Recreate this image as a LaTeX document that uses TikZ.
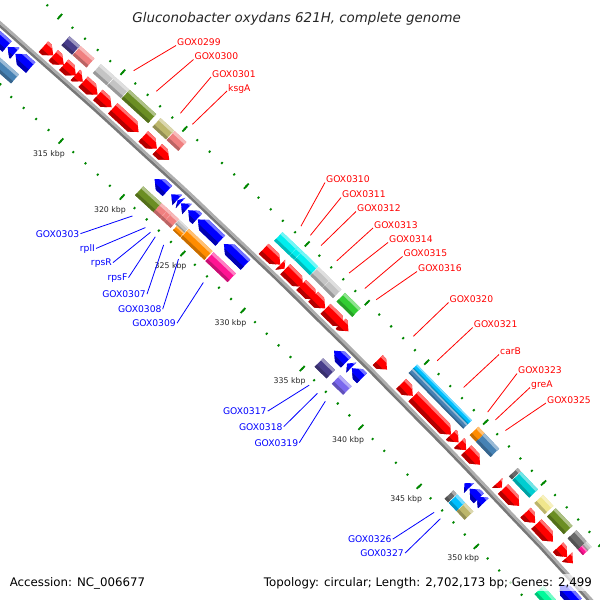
\documentclass[tikz,border=0pt]{standalone}
\usepackage{fontspec}
\setmainfont{DejaVu Sans}[ItalicFont={DejaVu Sans Oblique}]

\definecolor{fwdred}{RGB}{255,0,0}
\definecolor{revblue}{RGB}{0,0,255}
\definecolor{tickgreen}{RGB}{0,135,0}
\definecolor{bbone}{RGB}{120,120,120}
\definecolor{cogcyan}{RGB}{0,238,238}
\definecolor{coggray}{RGB}{196,196,196}
\definecolor{coglime}{RGB}{50,205,50}
\definecolor{cogolive}{RGB}{107,142,35}
\definecolor{cogkhaki}{RGB}{189,183,107}
\definecolor{cogcoral}{RGB}{240,128,128}
\definecolor{cogslate}{RGB}{72,61,139}
\definecolor{cogmslate}{RGB}{123,104,238}
\definecolor{cogorange}{RGB}{255,140,0}
\definecolor{cogpink}{RGB}{255,20,147}
\definecolor{cogsky}{RGB}{0,191,255}
\definecolor{cogsteel}{RGB}{70,130,180}
\definecolor{cogturq}{RGB}{0,206,209}
\definecolor{cogpale}{RGB}{240,230,140}
\definecolor{cogdim}{RGB}{105,105,105}
\definecolor{cogspring}{RGB}{0,250,154}

% point on the map: kbp position, offset from the backbone (px)
\newcommand{\gp}[2]{({(#1)*0.133226-90}:{7182+(#2)})}

% forward CDS (outer lane), arrow tip at the end
\newcommand{\fwdgene}[3]{%
  \pgfmathsetmacro{\ghead}{min(0.5,(#2)-(#1))}%
  \fill[#3] \gp{#1}{5} -- \gp{#2-\ghead}{5} -- \gp{#2}{12} -- \gp{#2-\ghead}{19} -- \gp{#1}{19} -- cycle;
  \fill[#3!70!black] \gp{#1}{5} -- \gp{#2-\ghead}{5} -- \gp{#2-0.4*\ghead}{9.2} -- \gp{#1}{9.2} -- cycle;
  \fill[#3!55!white] \gp{#1}{16.2} -- \gp{#2-0.6*\ghead}{16.2} -- \gp{#2-\ghead}{19} -- \gp{#1}{19} -- cycle;}

% reverse CDS (inner lane), arrow tip at the start
\newcommand{\revgene}[3]{%
  \pgfmathsetmacro{\ghead}{min(0.5,(#2)-(#1))}%
  \fill[#3] \gp{#2}{-5} -- \gp{#1+\ghead}{-5} -- \gp{#1}{-12} -- \gp{#1+\ghead}{-19} -- \gp{#2}{-19} -- cycle;
  \fill[#3!70!black] \gp{#2}{-19} -- \gp{#1+\ghead}{-19} -- \gp{#1+0.4*\ghead}{-14.8} -- \gp{#2}{-14.8} -- cycle;
  \fill[#3!55!white] \gp{#2}{-7.8} -- \gp{#1+0.6*\ghead}{-7.8} -- \gp{#1+\ghead}{-5} -- \gp{#2}{-5} -- cycle;}

% COG bar: start, end, low offset, high offset, colour
\newcommand{\cogbar}[5]{%
  \pgfmathsetmacro{\gq}{0.25*((#4)-(#3))}%
  \fill[#5] \gp{#1}{#3} -- \gp{#2}{#3} -- \gp{#2}{#4} -- \gp{#1}{#4} -- cycle;
  \fill[#5!78!black] \gp{#1}{#3} -- \gp{#2}{#3} -- \gp{#2}{#3+\gq} -- \gp{#1}{#3+\gq} -- cycle;
  \fill[#5!55!white] \gp{#1}{#4-\gq} -- \gp{#2}{#4-\gq} -- \gp{#2}{#4} -- \gp{#1}{#4} -- cycle;}

\begin{document}
\begin{tikzpicture}[
  x=1pt, y=-1pt,
  backtop/.style  = {draw=bbone!60!white, line width=2.7pt},
  backbot/.style  = {draw=bbone, line width=2.7pt},
  tickmark/.style = {draw=tickgreen, line width=1.8pt},
  kbplabel/.style = {font=\fontsize{7.8}{9}\selectfont, text=black!85, inner sep=0pt},
  fwdlab/.style   = {font=\fontsize{9.2}{10}\selectfont, text=fwdred, inner sep=1pt, anchor=base west},
  revlab/.style   = {font=\fontsize{9.2}{10}\selectfont, text=revblue, inner sep=1pt, anchor=base east},
  fwdline/.style  = {draw=fwdred, line width=0.8pt},
  revline/.style  = {draw=revblue, line width=0.8pt},
]
\fill[white] (0,0) rectangle (600,600);
\useasboundingbox (0,0) rectangle (600,600);

\begin{scope}[shift={(-4710,5446)}]

% --- backbone -----------------------------------------------------------
\draw[backbot] plot[domain=306:358, samples=40] ({\x*0.133226-90}:{7182-1.3});
\draw[backtop] plot[domain=306:358, samples=40] ({\x*0.133226-90}:{7182+1.3});

% --- ruler ticks and kbp marks -----------------------------------------
\foreach \k in {308,...,357} {
  \draw[tickmark] \gp{\k}{44.4} -- \gp{\k}{46.6};
  \draw[tickmark] \gp{\k}{-48.1} -- \gp{\k}{-45.9};
}
\foreach \k in {310,315,...,355} {
  \draw[tickmark] \gp{\k}{42} -- \gp{\k}{49};
  \draw[tickmark] \gp{\k}{-50.5} -- \gp{\k}{-43.5};
}
\foreach \k in {315,320,...,350}
  \path \gp{\k}{-65} node[kbplabel] (kbp\k) {\k\ kbp};

% --- forward strand CDS --------------------------------------------------
\fwdgene{310.45}{311.24}{fwdred}
\fwdgene{311.24}{312.08}{fwdred}
\fwdgene{312.08}{313.05}{fwdred}
\fwdgene{313.0}{313.6}{fwdred}
\fwdgene{313.62}{314.78}{fwdred}
\fwdgene{314.8}{315.9}{fwdred}
\fwdgene{316.0}{318.1}{fwdred}
\fwdgene{318.48}{319.58}{fwdred}
\fwdgene{319.62}{320.57}{fwdred}
\fwdgene{328.33}{329.7}{fwdred}
\fwdgene{329.7}{330.05}{fwdred}
\fwdgene{330.1}{331.6}{fwdred}
\fwdgene{331.45}{332.7}{fwdred}
\fwdgene{332.45}{333.45}{fwdred}
\fwdgene{333.48}{335.0}{fwdred}
\fwdgene{334.75}{335.4}{fwdred}
\fwdgene{337.85}{338.65}{fwdred}
\fwdgene{339.85}{340.85}{fwdred}
\fwdgene{340.9}{344.1}{fwdred}
\fwdgene{344.1}{344.75}{fwdred}
\fwdgene{344.8}{345.4}{fwdred}
\fwdgene{345.4}{346.6}{fwdred}
\fwdgene{348.1}{348.5}{fwdred}
\fwdgene{348.6}{350.0}{fwdred}
\fwdgene{350.55}{351.4}{fwdred}
\fwdgene{351.5}{352.95}{fwdred}
\fwdgene{353.4}{354.2}{fwdred}
\fwdgene{354.2}{354.7}{fwdred}

% --- forward strand COG ---------------------------------------------------
\cogbar{311.2}{312.05}{25}{37}{cogslate}
\cogbar{312.1}{313.2}{25}{37}{cogcoral}
\cogbar{313.7}{314.8}{25}{37}{coggray}
\cogbar{314.85}{315.95}{25}{37}{coggray}
\cogbar{316.0}{318.15}{25}{37}{cogolive}
\cogbar{318.5}{319.6}{25}{37}{cogkhaki}
\cogbar{319.65}{320.6}{25}{37}{cogcoral}
\cogbar{328.45}{329.7}{25}{37}{cogcyan}
\cogbar{329.72}{330.08}{25}{37}{cogcyan}
\cogbar{330.1}{331.4}{25}{37}{cogcyan}
\cogbar{331.45}{332.45}{25}{37}{coggray}
\cogbar{332.47}{333.35}{25}{37}{coggray}
\cogbar{333.65}{334.95}{25}{37}{coglime}
\cogbar{339.7}{344.35}{31}{37}{cogsky}
\cogbar{339.7}{344.35}{25}{31}{cogsteel}
\cogbar{344.9}{345.45}{25}{37}{cogorange}
\cogbar{345.45}{346.7}{25}{37}{cogsteel}
\cogbar{348.3}{348.55}{25}{37}{cogdim}
\cogbar{348.6}{350.05}{25}{37}{cogturq}
\cogbar{350.5}{351.4}{25}{37}{cogpale}
\cogbar{351.6}{353.05}{25}{37}{cogolive}
\cogbar{353.4}{354.3}{25}{37}{cogdim}
\cogbar{354.3}{354.75}{31}{37}{coggray}
\cogbar{354.3}{354.75}{25}{31}{cogpink}

% --- reverse strand CDS ---------------------------------------------------
\revgene{307.3}{308.8}{revblue}
\revgene{308.85}{309.42}{revblue}
\revgene{309.47}{310.7}{revblue}
\revgene{320.7}{321.75}{revblue}
\revgene{322.05}{322.55}{revblue}
\revgene{322.58}{322.82}{revblue}
\revgene{322.85}{323.35}{revblue}
\revgene{323.45}{324.2}{revblue}
\revgene{324.25}{326.1}{revblue}
\revgene{326.4}{328.2}{revblue}
\revgene{335.6}{336.6}{revblue}
\revgene{336.7}{337.05}{revblue}
\revgene{337.1}{337.95}{revblue}
\revgene{346.75}{347.15}{revblue}
\revgene{347.2}{348.0}{revblue}
\revgene{347.85}{348.4}{revblue}
\revgene{355.1}{356.6}{revblue}

% --- reverse strand COG ---------------------------------------------------
\cogbar{307.0}{310.45}{-37}{-25}{cogsteel}
\cogbar{320.5}{322.0}{-37}{-25}{cogolive}
\cogbar{322.0}{322.55}{-37}{-25}{cogcoral}
\cogbar{322.57}{322.85}{-37}{-25}{cogcoral}
\cogbar{322.87}{323.4}{-37}{-25}{cogcoral}
\cogbar{323.45}{324.2}{-31}{-25}{coggray}
\cogbar{323.6}{324.2}{-37}{-31}{cogorange}
\cogbar{324.25}{326.2}{-37}{-25}{cogorange}
\cogbar{326.3}{328.15}{-37}{-25}{cogpink}
\cogbar{335.45}{336.45}{-37}{-25}{cogslate}
\cogbar{336.9}{337.85}{-37}{-25}{cogmslate}
\cogbar{346.6}{346.9}{-37}{-25}{cogdim}
\cogbar{346.95}{347.62}{-37}{-25}{cogsky}
\cogbar{347.65}{348.35}{-37}{-25}{cogkhaki}
\cogbar{354.5}{355.6}{-37}{-25}{cogspring}

% --- label line ends --------------------------------------------------------
\path \gp{315.42}{54} coordinate (e0299);
\path \gp{317.24}{54} coordinate (e0300);
\path \gp{319.18}{54} coordinate (e0301);
\path \gp{320.15}{54} coordinate (eksgA);
\path \gp{329.0}{54} coordinate (e0310);
\path \gp{329.78}{54} coordinate (e0311);
\path \gp{330.66}{54} coordinate (e0312);
\path \gp{331.96}{54} coordinate (e0313);
\path \gp{332.99}{54} coordinate (e0314);
\path \gp{334.3}{54} coordinate (e0315);
\path \gp{335.25}{54} coordinate (e0316);
\path \gp{338.35}{54} coordinate (e0320);
\path \gp{340.38}{54} coordinate (e0321);
\path \gp{342.61}{54} coordinate (ecarB);
\path \gp{344.66}{54} coordinate (e0323);
\path \gp{345.31}{54} coordinate (egreA);
\path \gp{346.18}{54} coordinate (e0325);
\path \gp{321.23}{-54} coordinate (e0303);
\path \gp{322.28}{-54} coordinate (erplI);
\path \gp{322.7}{-54} coordinate (erpsR);
\path \gp{323.1}{-54} coordinate (erpsF);
\path \gp{323.8}{-54} coordinate (e0307);
\path \gp{325.04}{-54} coordinate (e0308);
\path \gp{327.1}{-54} coordinate (e0309);
\path \gp{336.0}{-54} coordinate (e0317);
\path \gp{336.7}{-54} coordinate (e0318);
\path \gp{337.37}{-54} coordinate (e0319);
\path \gp{346.75}{-54} coordinate (e0326);
\path \gp{347.29}{-54} coordinate (e0327);

\end{scope}

% --- forward strand labels -------------------------------------------------
\node[fwdlab] (l0299) at (176,45.5) {GOX0299};
\node[fwdlab] (l0300) at (193.5,59.5) {GOX0300};
\node[fwdlab] (l0301) at (211,77) {GOX0301};
\node[fwdlab] (lksgA) at (227,91) {ksgA};
\node[fwdlab] (l0310) at (325,182.5) {GOX0310};
\node[fwdlab] (l0311) at (341,197.5) {GOX0311};
\node[fwdlab] (l0312) at (356,211.5) {GOX0312};
\node[fwdlab] (l0313) at (373,228) {GOX0313};
\node[fwdlab] (l0314) at (388,242.5) {GOX0314};
\node[fwdlab] (l0315) at (402.5,256.5) {GOX0315};
\node[fwdlab] (l0316) at (417,271.5) {GOX0316};
\node[fwdlab] (l0320) at (448.5,302.5) {GOX0320};
\node[fwdlab] (l0321) at (472.7,327.5) {GOX0321};
\node[fwdlab] (lcarB) at (499,354.5) {carB};
\node[fwdlab] (l0323) at (517,373.5) {GOX0323};
\node[fwdlab] (lgreA) at (530,387.5) {greA};
\node[fwdlab] (l0325) at (546,403) {GOX0325};

\foreach \g in {0299,0300,0301,ksgA,0310,0311,0312,0313,0314,0315,0316,0320,0321,carB,0323,greA,0325}
  \draw[fwdline] (l\g.base west) -- (e\g);

% --- reverse strand labels -------------------------------------------------
\node[revlab] (l0303) at (80.5,237) {GOX0303};
\node[revlab] (lrplI) at (96,251) {rplI};
\node[revlab] (lrpsR) at (113,265) {rpsR};
\node[revlab] (lrpsF) at (128.5,280) {rpsF};
\node[revlab] (l0307) at (147,297.5) {GOX0307};
\node[revlab] (l0308) at (162.7,312.5) {GOX0308};
\node[revlab] (l0309) at (177,326.5) {GOX0309};
\node[revlab] (l0317) at (267.7,414.5) {GOX0317};
\node[revlab] (l0318) at (283.7,430) {GOX0318};
\node[revlab] (l0319) at (299.3,446) {GOX0319};
\node[revlab] (l0326) at (392.7,542.5) {GOX0326};
\node[revlab] (l0327) at (405,556.5) {GOX0327};

\foreach \g in {0303,rplI,rpsR,rpsF,0307,0308,0309,0317,0318,0319,0326,0327}
  \draw[revline] (l\g.east) -- (e\g);

% --- title and legend -------------------------------------------------------
\node[anchor=base, inner sep=0pt, text=black!85,
      font=\fontsize{13.4}{15}\selectfont\itshape] (title) at (296.7,22)
  {Gluconobacter oxydans 621H, complete genome};
\node[anchor=base west, inner sep=0pt, font=\fontsize{11.8}{13}\selectfont] (accession) at (9.6,586)
  {Accession: NC\_006677};
\node[anchor=base east, inner sep=3pt, fill=white, fill opacity=0.7, text opacity=1,
      font=\fontsize{11.8}{13}\selectfont] (topology) at (595,586)
  {Topology: circular; Length: 2,702,173 bp; Genes: 2,499};

\end{tikzpicture}
\end{document}
